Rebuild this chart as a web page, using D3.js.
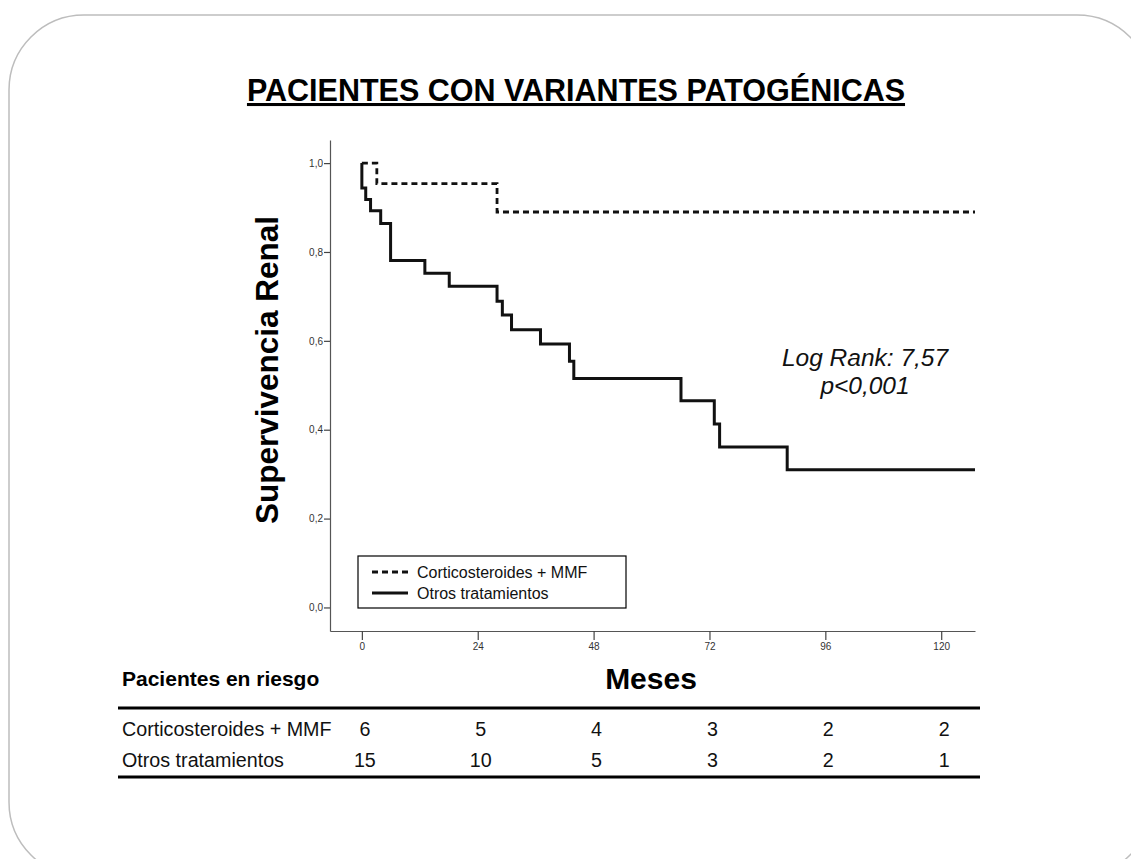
<!DOCTYPE html>
<html>
<head>
<meta charset="utf-8">
<script src="https://cdn.jsdelivr.net/npm/d3@7"></script>
<style>
  html, body { margin: 0; padding: 0; background: #fff; }
  svg { display: block; font-family: Arial, "Liberation Sans", sans-serif; }
</style>
</head>
<body>
<svg id="chart" width="1131" height="859"></svg>
<script>
// ---- Data ----
const seriesNames = ["Corticosteroides + MMF", "Otros tratamientos"];
// Corticosteroides + MMF: event times (months) and survival after each event
const timesCort = [3.1, 28.0];
const survCort = [0.954, 0.890];
// Otros tratamientos
const timesOtros = [0.0, 0.8, 1.8, 3.9, 5.95, 13.05, 18.1, 28.0, 29.1, 31.0, 37.0, 43.0, 43.9, 66.1, 73.0, 74.1, 88.1];
const survOtros = [0.944, 0.918, 0.893, 0.864, 0.781, 0.752, 0.723, 0.689, 0.658, 0.625, 0.593, 0.554, 0.515, 0.465, 0.413, 0.361, 0.310];
const followUpEnd = 127;
const xTicks = [0, 24, 48, 72, 96, 120];
const yTicks = [0.0, 0.2, 0.4, 0.6, 0.8, 1.0];
const riskMonths = [0, 24, 48, 72, 96, 120];
const riskCort = [6, 5, 4, 3, 2, 2];
const riskOtros = [15, 10, 5, 3, 2, 1];
const titleText = "PACIENTES CON VARIANTES PATOGÉNICAS";
const yTitle = "Supervivencia Renal";
const xTitle = "Meses";
const riskTitle = "Pacientes en riesgo";
const statLines = ["Log Rank: 7,57", "p<0,001"];

// ---- Layout ----
const svg = d3.select("#chart");
const fmt = d => d3.format(".1f")(d).replace(".", ",");

// frame
svg.append("rect")
  .attr("x", 9).attr("y", 15).attr("width", 1143).attr("height", 862)
  .attr("rx", 75).attr("ry", 75)
  .attr("fill", "#fff").attr("stroke", "#bdbdbd").attr("stroke-width", 1.5);

const x = d3.scaleLinear().domain([-6.6, 127]).range([330, 975]);
const y = d3.scaleLinear().domain([-0.053, 1.052]).range([631, 140]);

// title
svg.append("text")
  .attr("x", 576).attr("y", 101)
  .attr("text-anchor", "middle")
  .attr("font-size", 30.5).attr("font-weight", "bold")
  .attr("text-decoration", "underline")
  .attr("fill", "#000")
  .text(titleText);

// axes
const gy = svg.append("g").attr("transform", `translate(330,0)`)
  .call(d3.axisLeft(y).tickValues(yTicks).tickFormat(fmt).tickSize(6).tickSizeOuter(0).tickPadding(1));
const gx = svg.append("g").attr("transform", `translate(0,631)`)
  .call(d3.axisBottom(x).tickValues(xTicks).tickSize(9).tickSizeOuter(0).tickPadding(3));
[gx, gy].forEach(g => {
  g.select(".domain").attr("stroke", "#555").attr("stroke-width", 1.2);
  g.selectAll(".tick line").attr("stroke", "#444").attr("stroke-width", 1.2);
  g.selectAll(".tick text").attr("font-size", 10).attr("fill", "#333")
    .attr("font-family", "Arial, 'Liberation Sans', sans-serif");
});

// y title
svg.append("text")
  .attr("transform", `translate(278,370) rotate(-90)`)
  .attr("text-anchor", "middle")
  .attr("font-size", 31.5).attr("font-weight", "bold")
  .text(yTitle);

// curves
const line = d3.line().x(d => x(d[0])).y(d => y(d[1])).curve(d3.curveStepAfter);
function pts(times, surv) {
  const p = [[0, 1.0]];
  times.forEach((t, i) => p.push([t, surv[i]]));
  p.push([followUpEnd, surv[surv.length - 1]]);
  return p;
}
svg.append("path")
  .attr("d", line(pts(timesOtros, survOtros)))
  .attr("fill", "none").attr("stroke", "#111").attr("stroke-width", 3);
svg.append("path")
  .attr("d", line(pts(timesCort, survCort)))
  .attr("fill", "none").attr("stroke", "#111").attr("stroke-width", 2.8)
  .attr("stroke-dasharray", "6,4");

// stats text
statLines.forEach((s, i) => {
  svg.append("text")
    .attr("x", 865).attr("y", 366 + i * 28)
    .attr("text-anchor", "middle")
    .attr("font-size", 24.5).attr("font-style", "italic")
    .attr("fill", "#111")
    .text(s);
});

// legend
const lg = svg.append("g");
lg.append("rect").attr("x", 358).attr("y", 556).attr("width", 268).attr("height", 52)
  .attr("fill", "#fff").attr("stroke", "#000").attr("stroke-width", 1.2);
seriesNames.forEach((name, i) => {
  const yy = 572 + i * 21;
  lg.append("line").attr("x1", 372).attr("x2", 408).attr("y1", yy).attr("y2", yy)
    .attr("stroke", "#111").attr("stroke-width", 2.8)
    .attr("stroke-dasharray", i === 0 ? "6,4" : null);
  lg.append("text").attr("x", 417).attr("y", yy + 5.5)
    .attr("font-size", 16).attr("fill", "#111").text(name);
});

// risk table
svg.append("text").attr("x", 122).attr("y", 686)
  .attr("font-size", 21).attr("font-weight", "bold").text(riskTitle);
svg.append("text").attr("x", 651).attr("y", 689)
  .attr("text-anchor", "middle")
  .attr("font-size", 30).attr("font-weight", "bold").text(xTitle);
svg.append("line").attr("x1", 118).attr("x2", 980).attr("y1", 708).attr("y2", 708)
  .attr("stroke", "#000").attr("stroke-width", 3);
svg.append("line").attr("x1", 118).attr("x2", 980).attr("y1", 777).attr("y2", 777)
  .attr("stroke", "#000").attr("stroke-width", 3);
const rows = [riskCort, riskOtros];
rows.forEach((vals, r) => {
  const by = 736 + r * 31;
  svg.append("text").attr("x", 122).attr("y", by)
    .attr("font-size", 19.7).attr("fill", "#111").text(seriesNames[r]);
  riskMonths.forEach((m, i) => {
    svg.append("text").attr("x", x(m) + 3).attr("y", by)
      .attr("text-anchor", "middle")
      .attr("font-size", 19.7).attr("fill", "#111").text(vals[i]);
  });
});
</script>
</body>
</html>
